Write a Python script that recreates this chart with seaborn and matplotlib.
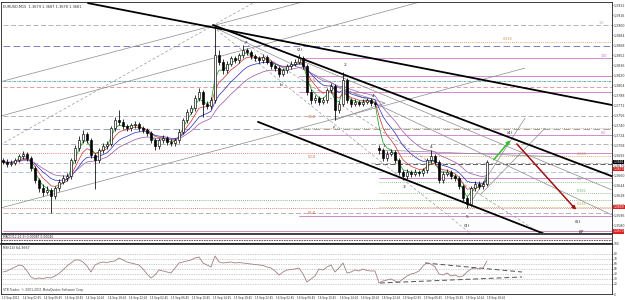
import numpy as np
import pandas as pd
import matplotlib
matplotlib.use("Agg")
import matplotlib.pyplot as plt
import matplotlib.transforms as mtrans
import seaborn as sns

sns.set_style("white")
plt.rcParams['font.family'] = ['DejaVu Sans']

# ---------------- data ----------------
opens = [1.3684, 1.3681, 1.3678, 1.3679, 1.3684, 1.3690, 1.3694, 1.3687, 1.3671, 1.3652,
         1.3639, 1.3633, 1.3636, 1.3626, 1.3639, 1.3649, 1.3655, 1.3658, 1.3684, 1.3703,
         1.3716, 1.3726, 1.3716, 1.3692, 1.3684, 1.3700, 1.3706, 1.3710, 1.3735, 1.3748,
         1.3745, 1.3738, 1.3735, 1.3740, 1.3742, 1.3735, 1.3732, 1.3727, 1.3716, 1.3706,
         1.3716, 1.3719, 1.3713, 1.3711, 1.3716, 1.3729, 1.3748, 1.3761, 1.3767, 1.3783,
         1.3793, 1.3774, 1.3770, 1.3780, 1.3852, 1.3841, 1.3828, 1.3838, 1.3847, 1.3844,
         1.3852, 1.3860, 1.3857, 1.3850, 1.3847, 1.3844, 1.3849, 1.3841, 1.3834, 1.3831,
         1.3822, 1.3828, 1.3834, 1.3838, 1.3841, 1.3847, 1.3834, 1.3793, 1.3780, 1.3783,
         1.3777, 1.3780, 1.3796, 1.3802, 1.3764, 1.3774, 1.3812, 1.3780, 1.3774, 1.3777,
         1.3774, 1.3777, 1.3780, 1.3775, 1.3703, 1.3700, 1.3687, 1.3694, 1.3697, 1.3684,
         1.3665, 1.3658, 1.3665, 1.3662, 1.3665, 1.3663, 1.3668, 1.3684, 1.3690, 1.3681,
         1.3652, 1.3662, 1.3665, 1.3658, 1.3655, 1.3642, 1.3623, 1.3614, 1.3639, 1.3646,
         1.3642, 1.3646]
closes = [1.3681, 1.3678, 1.3679, 1.3684, 1.3690, 1.3694, 1.3687, 1.3671, 1.3652, 1.3639,
          1.3633, 1.3636, 1.3626, 1.3639, 1.3649, 1.3655, 1.3658, 1.3684, 1.3703, 1.3716,
          1.3726, 1.3716, 1.3692, 1.3684, 1.3700, 1.3706, 1.3710, 1.3735, 1.3748, 1.3745,
          1.3738, 1.3735, 1.3740, 1.3742, 1.3735, 1.3732, 1.3727, 1.3716, 1.3706, 1.3716,
          1.3719, 1.3713, 1.3711, 1.3716, 1.3729, 1.3748, 1.3761, 1.3767, 1.3783, 1.3793,
          1.3774, 1.3770, 1.3780, 1.3852, 1.3841, 1.3828, 1.3838, 1.3847, 1.3844, 1.3852,
          1.3860, 1.3857, 1.3850, 1.3847, 1.3844, 1.3849, 1.3841, 1.3834, 1.3831, 1.3822,
          1.3828, 1.3834, 1.3838, 1.3841, 1.3847, 1.3834, 1.3793, 1.3780, 1.3783, 1.3777,
          1.3780, 1.3796, 1.3802, 1.3764, 1.3774, 1.3812, 1.3780, 1.3774, 1.3777, 1.3774,
          1.3777, 1.3780, 1.3775, 1.3774, 1.3700, 1.3687, 1.3694, 1.3697, 1.3684, 1.3665,
          1.3658, 1.3665, 1.3662, 1.3665, 1.3663, 1.3668, 1.3684, 1.3690, 1.3681, 1.3652,
          1.3662, 1.3665, 1.3658, 1.3655, 1.3642, 1.3623, 1.3614, 1.3639, 1.3646, 1.3642,
          1.3646, 1.3681]
highs = [1.3688, 1.3685, 1.3684, 1.3688, 1.3694, 1.3699, 1.3697, 1.3690, 1.3674, 1.3656,
         1.3645, 1.3642, 1.3640, 1.3643, 1.3653, 1.3660, 1.3664, 1.3688, 1.3708, 1.3722,
         1.3732, 1.3729, 1.3719, 1.3696, 1.3704, 1.3711, 1.3715, 1.3739, 1.3753, 1.3764,
         1.3749, 1.3742, 1.3744, 1.3746, 1.3745, 1.3739, 1.3736, 1.3730, 1.3719, 1.3720,
         1.3724, 1.3722, 1.3717, 1.3720, 1.3733, 1.3752, 1.3766, 1.3772, 1.3788, 1.3799,
         1.3796, 1.3778, 1.3785, 1.3897, 1.3860, 1.3845, 1.3842, 1.3851, 1.3850, 1.3856,
         1.3868, 1.3864, 1.3860, 1.3853, 1.3850, 1.3853, 1.3852, 1.3844, 1.3837, 1.3834,
         1.3832, 1.3838, 1.3842, 1.3846, 1.3854, 1.3850, 1.3837, 1.3797, 1.3788, 1.3786,
         1.3785, 1.3800, 1.3807, 1.3805, 1.3779, 1.3825, 1.3815, 1.3784, 1.3781, 1.3780,
         1.3781, 1.3784, 1.3783, 1.3779, 1.3708, 1.3703, 1.3698, 1.3702, 1.3700, 1.3687,
         1.3668, 1.3669, 1.3668, 1.3669, 1.3668, 1.3672, 1.3688, 1.3700, 1.3693, 1.3684,
         1.3666, 1.3669, 1.3668, 1.3661, 1.3658, 1.3645, 1.3626, 1.3643, 1.3650, 1.3650,
         1.3651, 1.3684]
lows = [1.3677, 1.3673, 1.3674, 1.3676, 1.3681, 1.3686, 1.3683, 1.3666, 1.3648, 1.3633,
        1.3627, 1.3629, 1.3599, 1.3622, 1.3635, 1.3645, 1.3650, 1.3654, 1.3680, 1.3699,
        1.3711, 1.3712, 1.3688, 1.3637, 1.3680, 1.3696, 1.3702, 1.3707, 1.3731, 1.3740,
        1.3734, 1.3730, 1.3731, 1.3736, 1.3731, 1.3727, 1.3722, 1.3711, 1.3700, 1.3702,
        1.3712, 1.3708, 1.3706, 1.3707, 1.3712, 1.3725, 1.3744, 1.3757, 1.3763, 1.3779,
        1.3753, 1.3765, 1.3766, 1.3776, 1.3836, 1.3822, 1.3824, 1.3834, 1.3839, 1.3840,
        1.3848, 1.3852, 1.3846, 1.3842, 1.3839, 1.3840, 1.3837, 1.3829, 1.3826, 1.3817,
        1.3818, 1.3824, 1.3830, 1.3834, 1.3837, 1.3829, 1.3788, 1.3774, 1.3776, 1.3772,
        1.3773, 1.3776, 1.3792, 1.3748, 1.3760, 1.3770, 1.3776, 1.3769, 1.3770, 1.3770,
        1.3771, 1.3774, 1.3771, 1.3770, 1.3694, 1.3682, 1.3683, 1.3690, 1.3679, 1.3660,
        1.3652, 1.3654, 1.3657, 1.3658, 1.3659, 1.3659, 1.3664, 1.3680, 1.3676, 1.3647,
        1.3648, 1.3658, 1.3653, 1.3650, 1.3637, 1.3618, 1.3607, 1.3610, 1.3635, 1.3638,
        1.3638, 1.3642]
rsi_values = [44, 46, 50, 54, 58, 56, 46, 34, 30, 32, 31, 33, 32, 36, 41, 48, 56, 62, 68, 68,
              64, 56, 44, 58, 62, 64, 63, 65, 66, 72, 68, 64, 62, 60, 58, 50, 40, 32, 38, 48,
              46, 44, 42, 52, 62, 64, 66, 68, 72, 74, 62, 58, 54, 76, 64, 62, 63, 64, 62, 63,
              62, 61, 60, 59, 58, 57, 54, 52, 46, 38, 44, 48, 49, 50, 52, 40, 24, 30, 36, 50,
              48, 54, 58, 44, 52, 62, 42, 44, 48, 46, 50, 47, 46, 46, 22, 26, 28, 30, 26, 24,
              30, 36, 40, 42, 46, 56, 62, 60, 54, 40, 38, 42, 36, 38, 34, 36, 44, 50, 52, 50,
              52, 66]
time_labels = ["13 Sep 2011", "14 Sep 02:45", "14 Sep 06:45", "14 Sep 10:45", "14 Sep 14:45",
               "14 Sep 18:45", "14 Sep 22:45", "15 Sep 02:45", "15 Sep 06:45", "15 Sep 10:45",
               "15 Sep 14:45", "15 Sep 18:45", "15 Sep 22:45", "16 Sep 02:45", "16 Sep 06:45",
               "16 Sep 10:45", "16 Sep 14:45", "16 Sep 18:45", "18 Sep 22:45", "19 Sep 02:45",
               "19 Sep 06:45", "19 Sep 10:45", "19 Sep 14:45", "19 Sep 18:45"]
price_ticks = [1.3932, 1.3916, 1.3900, 1.3884, 1.3868, 1.3852, 1.3836, 1.3820, 1.3804, 1.3788,
               1.3772, 1.3756, 1.3740, 1.3724, 1.3708, 1.3692, 1.3676, 1.3660, 1.3644, 1.3628,
               1.3612, 1.3596, 1.3580]
rsi_ticks = [0, 20, 30, 40, 50, 60, 70, 80, 100]
level_prices = [1.3900, 1.3873, 1.3866, 1.3847, 1.3818, 1.3810, 1.3801, 1.3793, 1.3754, 1.3735,
                1.3733, 1.3724, 1.3710, 1.3695, 1.3695, 1.3690, 1.3679, 1.3678, 1.3665, 1.3655,
                1.3649, 1.3631, 1.3620, 1.3609, 1.3607, 1.3599, 1.3594, 1.3570]
# trend lines: (bar0, price0, bar1, price1)
thick_lines = [(21.25, 1.3935, 152.25, 1.3772),
               (52.5, 1.3900, 152.25, 1.3658),
               (63.75, 1.3745, 139.25, 1.3556)]
thin_lines = [(-0.75, 1.3809, 76.75, 1.3940),
              (-0.75, 1.3754, 106.0, 1.3940),
              (-0.75, 1.3607, 130.5, 1.3831),
              (52.5, 1.3897, 152.25, 1.3596),
              (74.25, 1.3844, 152.25, 1.3636),
              (116.0, 1.3607, 130.5, 1.3751),
              (119.25, 1.3628, 135.5, 1.3735),
              (94.25, 1.3700, 139.25, 1.3689),
              (81.75, 1.3804, 95.5, 1.3775),
              (83.0, 1.3748, 95.5, 1.3775)]
dashed_lines = [(52.5, 1.3897, 116.75, 1.3567),
                (59.25, 1.3876, 134.25, 1.3567),
                (-0.75, 1.3708, 63.0, 1.3937)]
green_arrow = (122.25, 1.3681, 127.25, 1.3719)
red_arrow = (128.0, 1.3713, 143.75, 1.3601)
wave_labels = [("(2)", 74.25, 1.3860), ("a", 60.75, 1.3873), ("b", 69.5, 1.3804),
               ("c", 82.75, 1.3737), ("2", 85.5, 1.3836), ("4", 92.5, 1.3786),
               ("1", 95.25, 1.3706), ("3", 100.25, 1.3641), ("4", 107.0, 1.3705),
               ("5", 116.0, 1.3593), ("(3)", 116.0, 1.3578), ("(4)", 126.75, 1.3727),
               ("(5)", 143.75, 1.3585), ("B?", 144.75, 1.3569)]
fib_texts = [("23.6", 77.25, 1.3812), ("38.2", 77.25, 1.3753),
             ("50.0", 77.25, 1.3689), ("61.8", 77.25, 1.3599)]
right_fib_texts = [("2.618", 143.5, 1.3690, '#d09050'), ("0.5", 143.5, 1.3649, '#70b070'),
                   ("0.382", 143.5, 1.3631, '#70b070'), ("0.236", 143.5, 1.3609, '#c0a040'),
                   ("0.618", 125.0, 1.3873, '#d09050'), ("1.0", 149.0, 1.3900, '#a0a0d0'),
                   ("100", 149.5, 1.3847, '#c070c8'), ("0.0", 149.5, 1.3724, '#c070c8')]
rsi_upper = (105.5, 62, 129.75, 44)
rsi_lower = (94.25, 22, 129.75, 34)
box_prices = [(1.3681, 'black'), (1.3670, '#e02020'), (1.3609, '#e02020'), (1.3570, '#e02020')]

# ---------------- styles ----------------
level_styles = [
    ('#a8a8a8', (0, (6, 3)), 0),   ('#d09050', (0, (1, 1.5)), 74), ('#6868b8', (0, (8, 4)), 0),
    ('#c878c8', '-', 74),          ('#c878c8', '-', 74),           ('#50a0a0', (0, (3, 1, 1, 1)), 0),
    ('#e08898', (0, (5, 3)), 0),   ('#c878c8', '-', 74),           ('#a8a8a8', (0, (6, 3)), 0),
    ('#d09050', (0, (1, 1.5)), 74), ('#8890b8', (0, (8, 4)), 0),   ('#c878c8', '-', 74),
    ('#a8a8a8', (0, (6, 3)), 0),   ('#d06060', (0, (1, 1.5)), 0),  ('#d080d0', '-', 94),
    ('#d09050', (0, (1, 1.5)), 99), ('#b0b0b0', (0, (6, 3)), 0),   ('#404040', (0, (6, 3)), 93),
    ('#a8b8e0', (0, (6, 3)), 0),   ('#c878c8', '-', 94),           ('#70b070', (0, (1, 1.5)), 94),
    ('#70b070', (0, (1, 1.5)), 94), ('#60a060', (0, (1, 1.5)), 0), ('#c0a040', (0, (1, 1.5)), 94),
    ('#d06060', (0, (1, 1.5)), 0), ('#a8a8a8', (0, (6, 3)), 0),    ('#c878c8', '-', 74),
    ('#c878c8', '-', 0)]

XMIN, XMAX = -0.5, 152.25
YTOP, YBOT = 1.39368, 1.35672

fig = plt.figure(figsize=(6.25, 3.0), dpi=100, facecolor='white')
ax = fig.add_axes([0.0016, 0.2233, 0.9776, 0.77])
ax_s = fig.add_axes([0.0016, 0.19, 0.9776, 0.03])
ax_r = fig.add_axes([0.0016, 0.02, 0.9776, 0.1667])

FS = 3.2      # in-plot text
AX_FS = 2.3   # axis labels

# horizontal levels
for p, (col, ls, start) in zip(level_prices, level_styles):
    ax.plot([start, XMAX], [p, p], color=col, ls=ls, lw=0.6, zorder=1)

# thin / dashed trend lines
for (b0, p0, b1, p1) in thin_lines:
    ax.plot([b0, b1], [p0, p1], color='#8c8c8c', lw=0.5, zorder=2)
for (b0, p0, b1, p1) in dashed_lines:
    ax.plot([b0, b1], [p0, p1], color='#9a9a9a', lw=0.5, ls=(0, (4, 3)), zorder=2)
for (b0, p0, b1, p1) in thick_lines:
    ax.plot([b0, b1], [p0, p1], color='black', lw=1.3, zorder=4)

# moving averages (indicators computed from the closes)
df = pd.DataFrame({'bar': np.arange(len(closes)), 'close': closes})
for span, col in [(3, '#20a020'), (6, '#d04040'), (11, '#3838c0'), (18, '#a060b0')]:
    df['ma'] = df['close'].ewm(span=span, adjust=False).mean()
    sns.lineplot(data=df, x='bar', y='ma', ax=ax, color=col, lw=0.55, zorder=3, legend=False)

# candles
x = np.arange(len(closes))
o = np.array(opens); c = np.array(closes); h = np.array(highs); l = np.array(lows)
up = c >= o
ax.vlines(x, l, h, color='black', lw=0.55, zorder=5)
body = np.maximum(np.abs(c - o), 0.00004)
ax.bar(x[up], body[up], bottom=o[up], width=0.6, color='white', edgecolor='black', lw=0.45, zorder=6)
ax.bar(x[~up], body[~up], bottom=c[~up], width=0.6, color='black', edgecolor='black', lw=0.45, zorder=6)

# arrows
ax.annotate('', xy=green_arrow[2:], xytext=green_arrow[:2],
            arrowprops=dict(arrowstyle='-|>', color='#30c030', lw=1.1, mutation_scale=5), zorder=7)
ax.annotate('', xy=red_arrow[2:], xytext=red_arrow[:2],
            arrowprops=dict(arrowstyle='-|>', color='#a01010', lw=1.1, mutation_scale=5), zorder=7)

for t, b, p in wave_labels:
    ax.text(b, p, t, fontsize=FS, ha='center', va='center', color='#202020', zorder=8,
            style='italic' if t == 'B?' else 'normal')
for t, b, p in fib_texts:
    ax.text(b, p, t, fontsize=FS - 0.6, ha='center', va='center', color='#e06030', zorder=8)
for t, b, p, col in right_fib_texts:
    ax.text(b, p + 0.00008, t, fontsize=FS - 0.8, ha='left', va='bottom', color=col, zorder=8)

ax.text(0.004, 0.988, "EURUSD,M15  1.3679 1.3687 1.3678 1.3681", transform=ax.transAxes,
        fontsize=AX_FS + 0.2, va='top', ha='left', color='#303030')

ax.set_xlim(XMIN, XMAX)
ax.set_ylim(YBOT, YTOP)
ax.yaxis.tick_right()
ax.set_yticks(price_ticks)
ax.set_yticklabels([f"{v:.4f}" for v in price_ticks])
ax.tick_params(axis='y', labelsize=AX_FS, length=1.0, width=0.4, pad=0.5, colors='#303030')
ax.set_xticks([])
ax.set_xlabel(''); ax.set_ylabel('')

trans = mtrans.blended_transform_factory(ax.transAxes, ax.transData)
for p, col in box_prices:
    ax.text(1.0025, p, f"{p:.4f}", transform=trans, fontsize=AX_FS - 0.1, color='white', va='center',
            ha='left', bbox=dict(boxstyle='square,pad=0.08', fc=col, ec='none'), zorder=9, clip_on=False)

# indicator strip
ax_s.set_xlim(XMIN, XMAX)
ax_s.set_ylim(-1, 1)
ax_s.axhline(0.2, color='#e0a0c0', lw=0.8)
ax_s.axhline(-0.3, color='#404040', lw=0.6, ls=(0, (2, 1)))
ax_s.text(0.004, 0.9, "MACD(12,26,9) 0.00087 0.00046", transform=ax_s.transAxes,
          fontsize=AX_FS - 0.1, va='top', ha='left', color='#303030')
ax_s.set_xticks([]); ax_s.set_yticks([])

# RSI panel
rdf = pd.DataFrame({'bar': np.arange(len(rsi_values)), 'rsi': rsi_values})
for lvl in [20, 30, 40, 50, 60, 70, 80]:
    ax_r.axhline(lvl, color='#a0a0a0', lw=0.5, ls=(0, (1, 1.5)), zorder=1)
sns.lineplot(data=rdf, x='bar', y='rsi', ax=ax_r, color='#a08080', lw=0.6, legend=False, zorder=3)
for seg in (rsi_upper, rsi_lower):
    ax_r.plot([seg[0], seg[2]], [seg[1], seg[3]], color='#505050', lw=0.7, ls=(0, (5, 3)), zorder=2)
ax_r.text(0.004, 0.95, "RSI(14) 64.3667", transform=ax_r.transAxes, fontsize=AX_FS,
          va='top', ha='left', color='#303030')
ax_r.text(0.004, 0.03, "STB Trader, \u00a9 2001-2011 MetaQuotes Software Corp.", transform=ax_r.transAxes,
          fontsize=AX_FS - 0.1, va='bottom', ha='left', color='#404040')
ax_r.set_xlim(XMIN, XMAX)
ax_r.set_ylim(0, 100)
ax_r.yaxis.tick_right()
ax_r.set_yticks(rsi_ticks)
ax_r.set_yticklabels([str(v) for v in rsi_ticks])
ax_r.tick_params(axis='y', labelsize=AX_FS - 0.2, length=1.0, width=0.4, pad=0.5, colors='#303030')
tick_pos = -0.25 + 5.275 * np.arange(len(time_labels))
ax_r.set_xticks(tick_pos)
ax_r.set_xticklabels(time_labels, ha='left')
ax_r.tick_params(axis='x', labelsize=2.0, length=1.0, width=0.4, pad=0.6, colors='#303030')
ax_r.set_xlabel(''); ax_r.set_ylabel('')

for a in (ax, ax_s, ax_r):
    for s in a.spines.values():
        s.set_color('#202020')
        s.set_linewidth(0.6)
ax_r.spines['top'].set_linewidth(1.2)

fig.savefig("out.png", dpi=100, facecolor='white')
